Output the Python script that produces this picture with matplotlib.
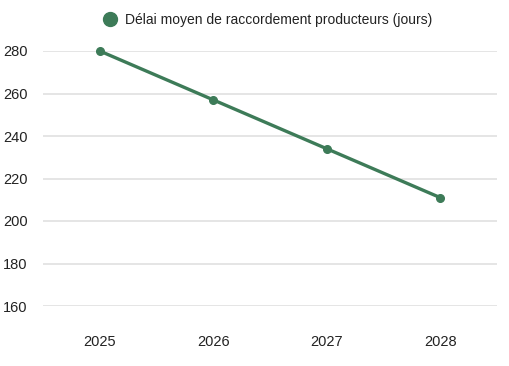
import matplotlib
matplotlib.use("Agg")
from matplotlib import pyplot as plt
from matplotlib.lines import Line2D

years = ["2025", "2026", "2027", "2028"]
delai = [280, 257, 234, 211]
yticks = [160, 180, 200, 220, 240, 260, 280]

green = "#3d7b58"
plt.rcParams['font.family'] = ['Liberation Sans', 'DejaVu Sans']

fig = plt.figure(figsize=(5.1, 3.66), dpi=100)
ax = fig.add_axes([43 / 510, 60 / 366, 454 / 510, 255 / 366])

x = range(len(years))
ax.plot(x, delai, color=green, linewidth=2.4, marker='o', markersize=5.5,
        clip_on=False, zorder=3)

ax.set_xlim(-0.5, len(years) - 0.5)
ax.set_ylim(160, 280)
ax.set_yticks(yticks)
ax.set_xticks(list(x))
ax.set_xticklabels(years)
ax.grid(axis='y', color='#e3e3e3', linewidth=1.3)
ax.set_axisbelow(True)
for s in ax.spines.values():
    s.set_visible(False)
ax.tick_params(axis='both', length=0, labelsize=10.5, colors='#222222')
ax.tick_params(axis='x', pad=21)
for lbl in ax.get_yticklabels():
    lbl.set_horizontalalignment('left')
    lbl.set_x(-35 / 454)

handle = Line2D([], [], color=green, marker='o', linestyle='none', markersize=10)
fig.legend(handles=[handle], labels=["Délai moyen de raccordement producteurs (jours)"],
           loc='center', bbox_to_anchor=(267 / 510, 1 - 20 / 366), frameon=False,
           fontsize=10, handletextpad=0.45, borderpad=0, handlelength=1.2,
           labelcolor='#222222')

fig.savefig("out.png", dpi=100)
